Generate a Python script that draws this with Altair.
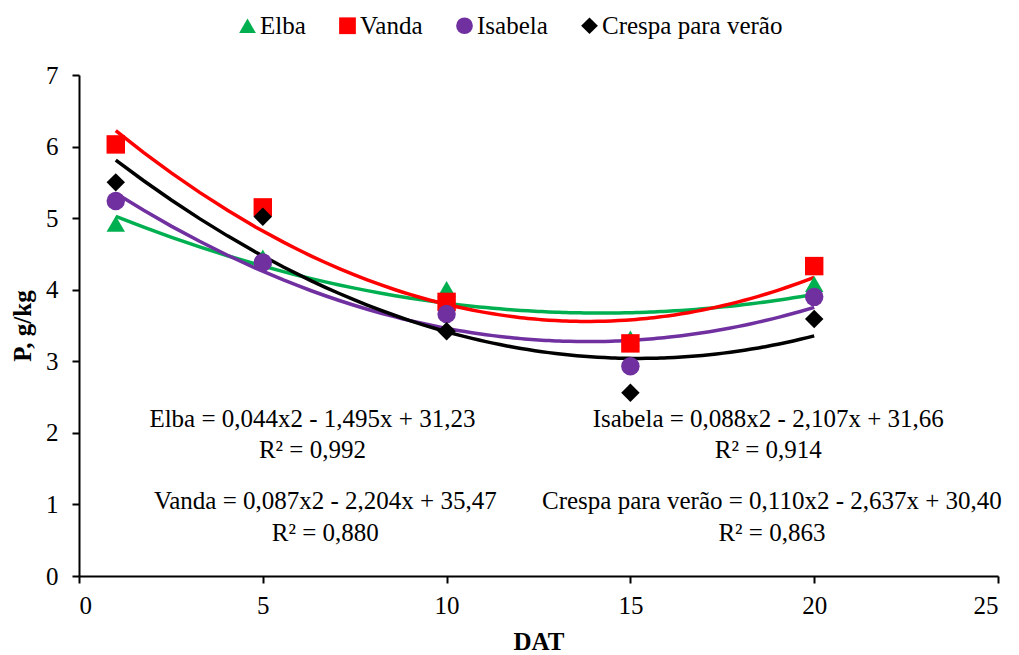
import altair as alt
import pandas as pd

series = ["Elba", "Vanda", "Isabela", "Crespa para verão"]
colors = ["#00B050", "#FF0000", "#7030A0", "#000000"]
shapes = ["triangle-up", "square", "circle", "diamond"]
dat = [1, 5, 10, 15, 20]
elba = [4.92, 4.45, 4.01, 3.32, 4.08]
vanda = [6.03, 5.15, 3.83, 3.25, 4.33]
isabela = [5.24, 4.38, 3.66, 2.93, 3.90]
crespa = [5.50, 5.02, 3.42, 2.56, 3.59]

eq_labels = [
    "Elba = 0,044x2 - 1,495x + 31,23", "R² = 0,992",
    "Vanda = 0,087x2 - 2,204x + 35,47", "R² = 0,880",
    "Isabela = 0,088x2 - 2,107x + 31,66", "R² = 0,914",
    "Crespa para verão = 0,110x2 - 2,637x + 30,40", "R² = 0,863",
]
eq_x = [6.35, 6.35, 6.7, 6.7, 18.75, 18.75, 18.85, 18.85]
eq_y = [2.2, 1.76, 1.05, 0.6, 2.2, 1.76, 1.05, 0.6]

rows = []
for s, vals in zip(series, [elba, vanda, isabela, crespa]):
    for d, v in zip(dat, vals):
        rows.append({"serie": s, "DAT": d, "P": v})
df = pd.DataFrame(rows)
ann = pd.DataFrame({"label": eq_labels, "x": eq_x, "y": eq_y})

FONT = "Liberation Serif"
FS = 25
xs = alt.Scale(domain=[0, 25], nice=False)
ys = alt.Scale(domain=[0, 7], nice=False)
cs = alt.Scale(domain=series, range=colors)
ss = alt.Scale(domain=series, range=shapes)

base = alt.Chart(df)

leg = alt.Legend(title=None, orient="none", direction="horizontal",
                 legendX=156, legendY=-62,
                 labelFont=FONT, labelFontSize=FS, labelColor="black",
                 symbolSize=280, columnPadding=29, labelOffset=0, labelLimit=0,
                 symbolOpacity=1, symbolStrokeWidth=0)

lines = base.transform_regression(
    "DAT", "P", groupby=["serie"], method="poly", order=2, extent=[1, 20]
).mark_line(strokeWidth=3.5).encode(
    x=alt.X("DAT:Q", scale=xs),
    y=alt.Y("P:Q", scale=ys),
    color=alt.Color("serie:N", scale=cs, legend=leg),
)

points = base.mark_point(filled=True, opacity=1, size=340).encode(
    x=alt.X("DAT:Q", scale=xs,
            axis=alt.Axis(title="DAT", values=[0, 5, 10, 15, 20, 25], format="d",
                          labelPadding=10, titlePadding=11)),
    y=alt.Y("P:Q", scale=ys,
            axis=alt.Axis(title="P, g/kg", values=[0, 1, 2, 3, 4, 5, 6, 7], format="d",
                          labelPadding=14, titlePadding=10)),
    color=alt.Color("serie:N", scale=cs, legend=leg),
    shape=alt.Shape("serie:N", scale=ss, legend=leg),
)

texts = alt.Chart(ann).mark_text(font=FONT, fontSize=FS, color="black", align="center",
                                 baseline="middle").encode(
    x=alt.X("x:Q", scale=xs),
    y=alt.Y("y:Q", scale=ys),
    text="label:N",
)

chart = alt.layer(lines, points, texts).properties(
    width=919, height=501,
    autosize=alt.AutoSizeParams(type="none"),
    padding={"left": 79, "top": 75, "right": 21, "bottom": 79},
).configure_view(stroke=None).configure_axis(
    grid=False,
    domainColor="black", domainWidth=2,
    tickColor="black", tickWidth=2, tickSize=7,
    labelFont=FONT, labelFontSize=FS, labelColor="black",
    titleFont=FONT, titleFontSize=FS, titleFontWeight="bold", titleColor="black",
).configure_legend(
    labelFont=FONT, labelFontSize=FS, labelColor="black", labelLimit=0,
)

chart.save("out.html", embed_options={"renderer": "svg", "actions": False})
